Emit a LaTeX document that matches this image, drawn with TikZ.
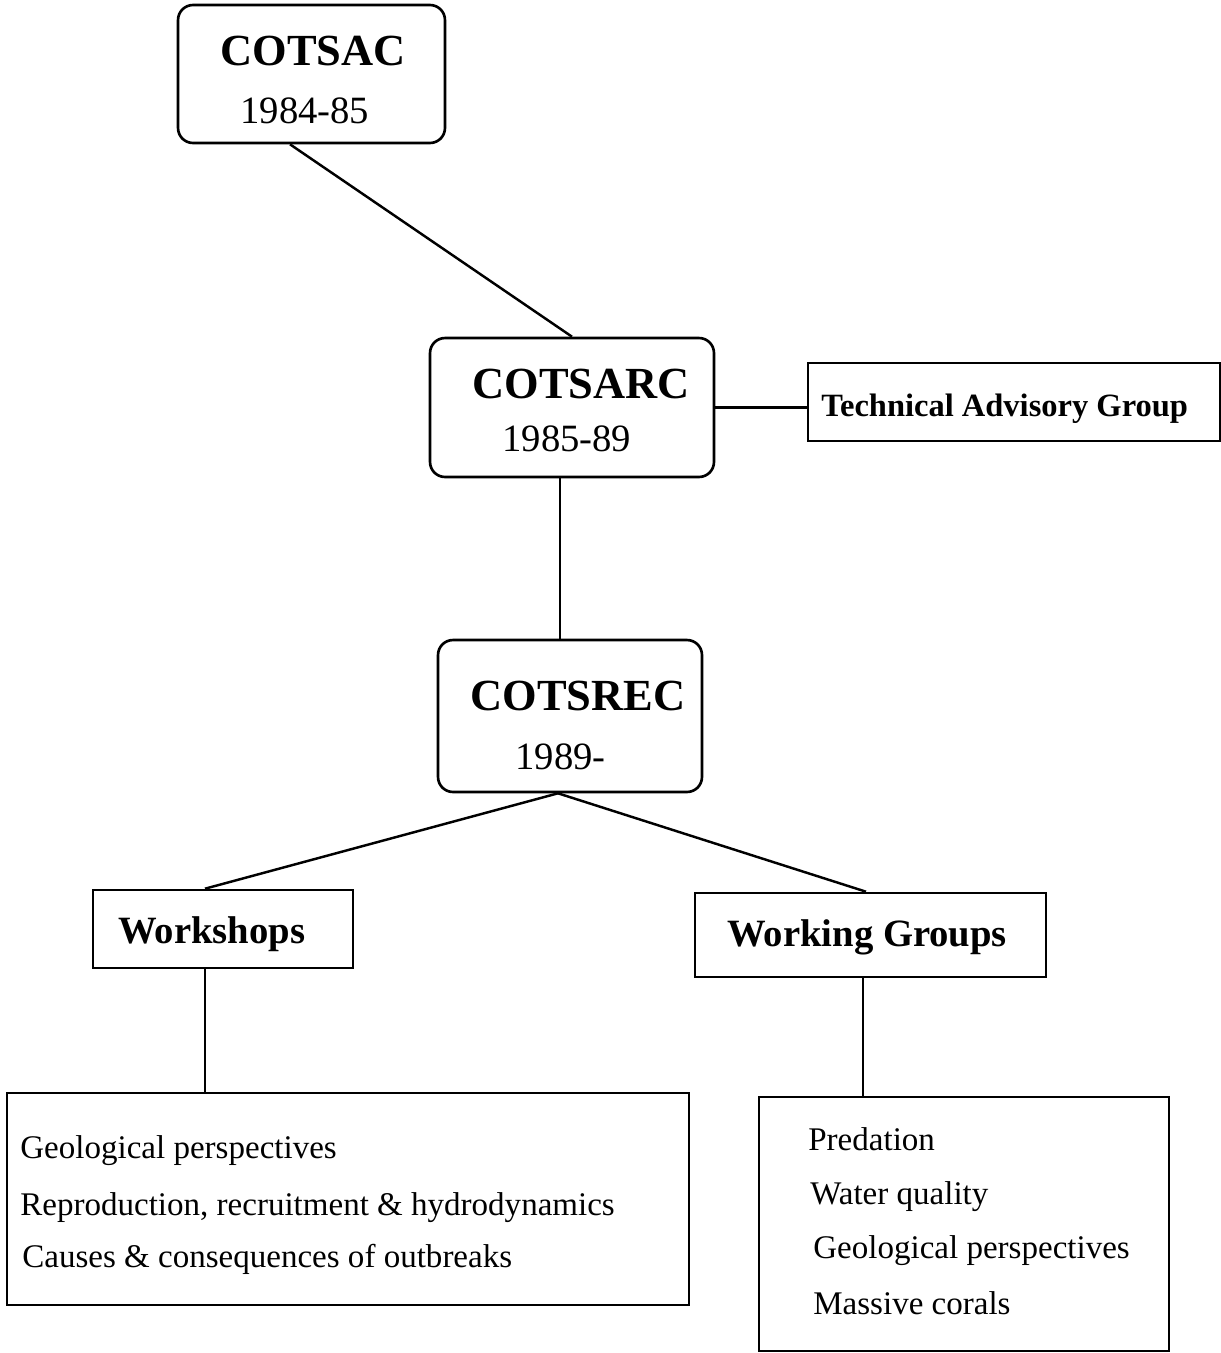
\documentclass[tikz,border=0pt]{standalone}
\usepackage{fontspec}
\setmainfont{Liberation Serif}
\usetikzlibrary{positioning}
\usetikzlibrary{calc}

\tikzset{
    roundbox/.style={draw, line width=1.5pt, rounded corners=0.3cm},
    plainbox/.style={draw, line width=1.5pt},
    link/.style={line width=1.4pt},
    title/.style={anchor=base west, inner sep=0pt, font=\bfseries\fontsize{25.3}{30}\selectfont},
    years/.style={anchor=base west, inner sep=0pt, font=\fontsize{22}{26}\selectfont},
    heading/.style={anchor=base west, inner sep=0pt, font=\bfseries\fontsize{22}{26}\selectfont},
    topic/.style={anchor=base west, inner sep=0pt, font=\fontsize{18.8}{22}\selectfont}
}

\begin{document}
\begin{tikzpicture}[x=0.02cm, y=-0.02cm]
            \useasboundingbox (0,0) rectangle (1221,1353);

            % committees
            \node [roundbox, minimum width=5.34cm, minimum height=2.76cm] (cotsac) at (311.5,74) {};
            \node [title] (cotsac-name) at (220,65) {COTSAC};
            \node [years] (cotsac-years) at (240,123) {1984-85};

            \node [roundbox, minimum width=5.68cm, minimum height=2.78cm] (cotsarc) at (572,407.5) {};
            \node [title] (cotsarc-name) at (472,398) {COTSARC};
            \node [years] (cotsarc-years) at (502,451) {1985-89};

            \node [plainbox, minimum width=8.24cm, minimum height=1.56cm] (tag) at (1014,402) {};
            \node [anchor=base west, inner sep=0pt, font=\bfseries\fontsize{18.5}{22}\selectfont]
                (tag-name) at (821,416) {Technical Advisory Group};

            \node [roundbox, minimum width=5.28cm, minimum height=3.04cm] (cotsrec) at (570,716) {};
            \node [title] (cotsrec-name) at (470,710) {COTSREC};
            \node [years] (cotsrec-years) at (515,769) {1989-};

            % activities
            \node [plainbox, minimum width=5.2cm, minimum height=1.56cm] (workshops) at (223,929) {};
            \node [heading] (workshops-name) at (118,943) {Workshops};

            \node [plainbox, minimum width=7.02cm, minimum height=1.68cm] (wgroups) at (870.5,935) {};
            \node [heading] (wgroups-name) at (727,946) {Working Groups};

            \node [plainbox, minimum width=13.64cm, minimum height=4.24cm] (wslist) at (348,1199) {};
            \node [topic] (ws1) at (20,1158) {Geological perspectives};
            \node [topic] (ws2) at (20,1215) {Reproduction, recruitment \& hydrodynamics};
            \node [topic] (ws3) at (22,1267) {Causes \& consequences of outbreaks};

            \node [plainbox, minimum width=8.2cm, minimum height=5.08cm] (wglist) at (964,1224) {};
            \node [topic] (wg1) at (808,1150) {Predation};
            \node [topic] (wg2) at (810,1204) {Water quality};
            \node [topic] (wg3) at (813,1258) {Geological perspectives};
            \node [topic] (wg4) at (813,1314) {Massive corals};

            % links
            \draw [link] ([xshift=-0.43cm]cotsac.south) -- (cotsarc.north);
            \draw [link] (cotsarc.east) -- (cotsarc.east -| tag.west);
            \coordinate (arc-out) at ([xshift=-0.24cm]cotsarc.south);
            \draw [link] (arc-out) -- (arc-out |- cotsrec.north);
            \coordinate (rec-out) at ([xshift=-0.24cm]cotsrec.south);
            \draw [link] (rec-out) -- ([xshift=-0.36cm]workshops.north);
            \draw [link] (rec-out) -- ([xshift=-0.09cm]wgroups.north);
            \coordinate (ws-out) at ([xshift=-0.36cm]workshops.south);
            \draw [link] (ws-out) -- (ws-out |- wslist.north);
            \coordinate (wg-out) at ([xshift=-0.15cm]wgroups.south);
            \draw [link] (wg-out) -- (wg-out |- wglist.north);
        \end{tikzpicture}
\end{document}
